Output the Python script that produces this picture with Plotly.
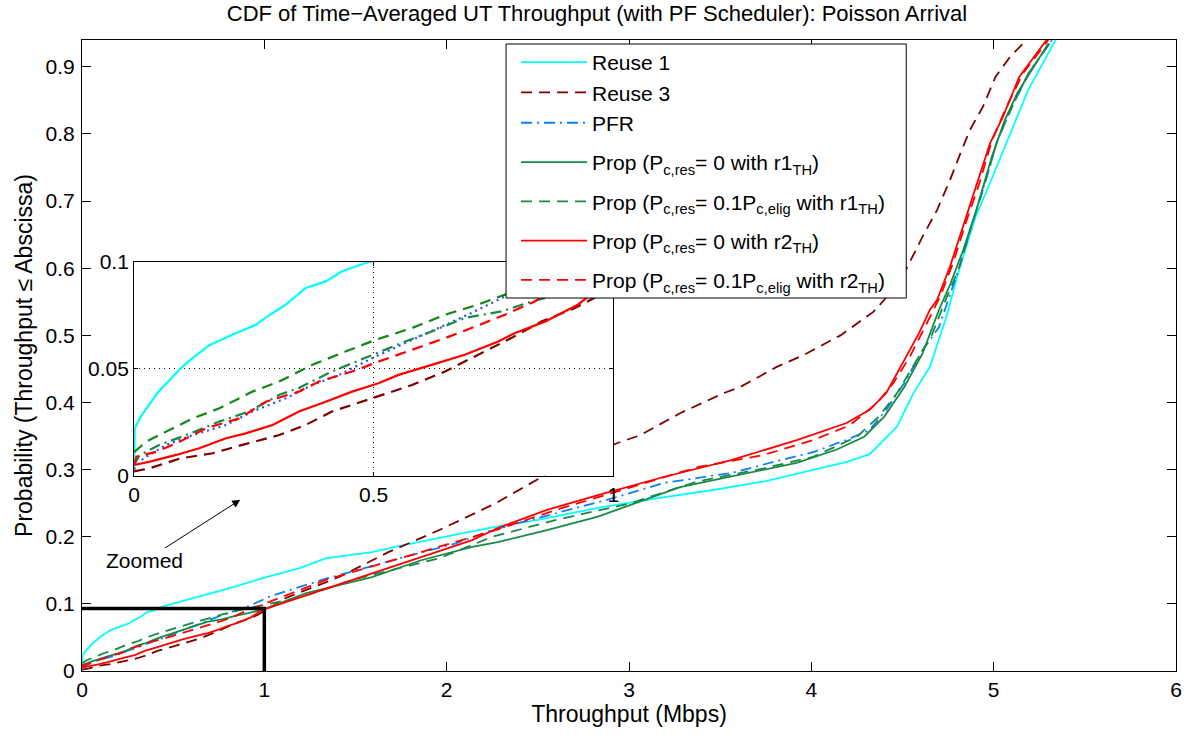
import plotly.graph_objects as go

# ---------------- data ----------------
reuse1_x = [0, 0.0015, 0.012, 0.05, 0.088, 0.109, 0.157, 0.206, 0.254, 0.282, 0.317, 0.358, 0.40, 0.434, 0.483, 0.51,
            0.59, 0.83, 1.01, 1.19, 1.34, 1.59, 1.77, 2.05, 2.23, 2.5, 2.83, 3.15, 3.47, 3.75, 4.01, 4.2, 4.32,
            4.47, 4.56, 4.65, 4.74, 4.81, 4.90, 4.98, 5.09, 5.19, 5.34]
reuse1_y = [0.0035, 0.022, 0.027, 0.039, 0.048, 0.0526, 0.061, 0.066, 0.0705, 0.075, 0.080, 0.0877, 0.0908, 0.0955, 0.0994, 0.101,
            0.107, 0.125, 0.14, 0.153, 0.168, 0.177, 0.188, 0.203, 0.213, 0.225, 0.243, 0.257, 0.27, 0.283, 0.30, 0.312, 0.323,
            0.364, 0.414, 0.453, 0.527, 0.597, 0.676, 0.727, 0.80, 0.866, 0.94]

reuse3_x = [0, 0.033, 0.095, 0.164, 0.226, 0.303, 0.358, 0.413, 0.497, 0.58, 0.649, 0.732, 0.787, 0.85, 0.919, 0.96,
            1.12, 1.41, 1.68, 1.96, 2.27, 2.56, 2.94, 3.06, 3.28, 3.52, 3.61, 3.81, 3.96, 4.16, 4.34, 4.40,
            4.51, 4.61, 4.69, 4.76, 4.81, 4.87, 4.94, 5.01, 5.09, 5.18]
reuse3_y = [0.002, 0.0035, 0.008, 0.0105, 0.0144, 0.019, 0.0237, 0.030, 0.0362, 0.0424, 0.0487, 0.058, 0.0643, 0.072, 0.0783, 0.083,
            0.109, 0.14, 0.177, 0.21, 0.25, 0.295, 0.34, 0.351, 0.384, 0.414, 0.423, 0.453, 0.471, 0.50, 0.535, 0.553,
            0.593, 0.647, 0.687, 0.731, 0.766, 0.806, 0.84, 0.885, 0.915, 0.94]

pfr_x = [0, 0.019, 0.067, 0.123, 0.192, 0.247, 0.317, 0.372, 0.427, 0.504, 0.573, 0.642, 0.704, 0.774, 0.9, 1.04,
         1.32, 1.50, 1.77, 2.05, 2.25, 2.5, 2.88, 3.19, 3.56, 3.83, 4.01, 4.19, 4.32, 4.41, 4.51, 4.61, 4.70,
         4.81, 4.88, 4.95, 5.02, 5.10, 5.19, 5.32]
pfr_y = [0.003, 0.008, 0.0144, 0.019, 0.0237, 0.030, 0.0362, 0.0424, 0.047, 0.0557, 0.0627, 0.0697, 0.076, 0.0838, 0.095, 0.112,
         0.136, 0.15, 0.17, 0.19, 0.21, 0.228, 0.255, 0.28, 0.295, 0.314, 0.326, 0.344, 0.359, 0.389, 0.429, 0.478, 0.512,
         0.60, 0.665, 0.725, 0.79, 0.84, 0.89, 0.94]

prop_r1_0_x = [0, 0.012, 0.053, 0.109, 0.178, 0.24, 0.303, 0.344, 0.413, 0.497, 0.566, 0.621, 0.69, 0.767, 0.83, 0.99,
               1.23, 1.59, 1.86, 2.14, 2.28, 2.55, 2.83, 3.28, 3.65, 3.92, 4.14, 4.29, 4.40, 4.51, 4.61, 4.70,
               4.76, 4.83, 4.90, 4.99, 5.06, 5.13, 5.30]
prop_r1_0_y = [0.005, 0.0097, 0.0144, 0.019, 0.0253, 0.030, 0.0378, 0.041, 0.0487, 0.0565, 0.0627, 0.0674, 0.0737, 0.0768, 0.0814, 0.091,
               0.116, 0.14, 0.165, 0.185, 0.192, 0.21, 0.23, 0.274, 0.295, 0.31, 0.33, 0.349, 0.379, 0.423, 0.473, 0.538,
               0.575, 0.625, 0.682, 0.766, 0.82, 0.861, 0.935]

prop_r1_01_x = [0, 0.026, 0.067, 0.123, 0.178, 0.247, 0.303, 0.372, 0.441, 0.504, 0.58, 0.649, 0.718, 0.774, 0.9,
                1.2, 1.5, 1.96, 2.25, 2.6, 3.01, 3.37, 3.74, 4.01, 4.25, 4.37, 4.47, 4.57, 4.66, 4.74,
                4.81, 4.88, 4.95, 5.02, 5.10, 5.19, 5.32]
prop_r1_01_y = [0.011, 0.016, 0.0206, 0.0268, 0.0315, 0.0393, 0.044, 0.0518, 0.058, 0.0635, 0.069, 0.0752, 0.080, 0.0846, 0.093,
                0.11, 0.137, 0.168, 0.20, 0.225, 0.25, 0.282, 0.302, 0.319, 0.349, 0.379, 0.414, 0.46, 0.50, 0.555,
                0.60, 0.665, 0.725, 0.79, 0.84, 0.89, 0.94]

prop_r2_0_x = [0, 0.033, 0.088, 0.136, 0.192, 0.233, 0.289, 0.344, 0.40, 0.455, 0.51, 0.552, 0.621, 0.69, 0.76, 0.794,
               0.857, 0.926, 0.99, 1.32, 1.59, 1.86, 2.14, 2.28, 2.55, 2.83, 3.19, 3.56, 3.92, 4.19, 4.32, 4.41,
               4.51, 4.59, 4.65, 4.69, 4.76, 4.83, 4.90, 4.98, 5.05, 5.14, 5.29]
prop_r2_0_y = [0.005, 0.0066, 0.0097, 0.0128, 0.0175, 0.0198, 0.0237, 0.030, 0.0346, 0.0393, 0.0432, 0.0471, 0.0518, 0.0565, 0.0627, 0.0666,
               0.072, 0.0799, 0.091, 0.121, 0.146, 0.17, 0.195, 0.213, 0.24, 0.262, 0.289, 0.314, 0.344, 0.369, 0.389, 0.414,
               0.463, 0.503, 0.538, 0.553, 0.602, 0.661, 0.717, 0.786, 0.825, 0.885, 0.94]

prop_r2_01_x = [0, 0.005, 0.047, 0.095, 0.15, 0.22, 0.275, 0.344, 0.386, 0.455, 0.51, 0.58, 0.649, 0.704, 0.774, 0.836,
                0.87, 1.0, 1.34, 1.77, 2.14, 2.27, 2.6, 3.01, 3.38, 3.74, 4.01, 4.21, 4.36, 4.45, 4.54, 4.65,
                4.71, 4.78, 4.85, 4.92, 4.99, 5.07, 5.16, 5.30]
prop_r2_01_y = [0.005, 0.0089, 0.0112, 0.0159, 0.0222, 0.0268, 0.0346, 0.0393, 0.044, 0.0487, 0.0533, 0.0588, 0.0643, 0.069, 0.0752, 0.0814,
                0.086, 0.1, 0.136, 0.17, 0.20, 0.21, 0.24, 0.274, 0.304, 0.322, 0.344, 0.366, 0.399, 0.429, 0.468, 0.527,
                0.56, 0.61, 0.67, 0.725, 0.79, 0.84, 0.89, 0.94]

# zoom-box outline drawn on the main axes
box_x = [0, 1, 1]
box_y = [0.093, 0.093, 0]

x_ticks = [0, 1, 2, 3, 4, 5, 6]
y_ticks = [0, 0.1, 0.2, 0.3, 0.4, 0.5, 0.6, 0.7, 0.8, 0.9]
inset_x_ticks = [0, 0.5, 1]
inset_y_ticks = [0, 0.05, 0.1]

# ---------------- styles ----------------
FONT = "Liberation Sans, Arial, Helvetica, sans-serif"
FS = 21
CYAN = "#00FFFF"
MAROON = "#800000"
PFR_BLUE = "#0A7FFF"
SEA_GREEN = "#178A48"
RED = "#FF0000"
DASH = "11px,7px"
DASHDOT = "11px,5px,2px,5px"
W = 1.8

series = [
    ("Reuse 1", reuse1_x, reuse1_y, CYAN, "solid", "g0"),
    ("Reuse 3", reuse3_x, reuse3_y, MAROON, DASH, "g0"),
    ("PFR", pfr_x, pfr_y, PFR_BLUE, DASHDOT, "g0"),
    ("Prop (P<sub>c,res</sub>= 0 with r1<sub>TH</sub>)", prop_r1_0_x, prop_r1_0_y, SEA_GREEN, "solid", "g1"),
    ("Prop (P<sub>c,res</sub>= 0.1P<sub>c,elig</sub> with r1<sub>TH</sub>)", prop_r1_01_x, prop_r1_01_y, SEA_GREEN, DASH, "g2"),
    ("Prop (P<sub>c,res</sub>= 0 with r2<sub>TH</sub>)", prop_r2_0_x, prop_r2_0_y, RED, "solid", "g3"),
    ("Prop (P<sub>c,res</sub>= 0.1P<sub>c,elig</sub> with r2<sub>TH</sub>)", prop_r2_01_x, prop_r2_01_y, RED, DASH, "g4"),
]

fig = go.Figure()
for name, xs, ys, col, dash, grp in series:
    fig.add_trace(go.Scatter(x=xs, y=ys, mode="lines", name=name, legendgroup=grp,
                             line=dict(color=col, width=W, dash=dash),
                             xaxis="x", yaxis="y"))

fig.add_trace(go.Scatter(x=box_x, y=box_y, mode="lines", showlegend=False,
                         line=dict(color="black", width=3.5), cliponaxis=False,
                         xaxis="x", yaxis="y"))

# inset styles (as drawn in the zoomed view)
inset_styles = [
    (CYAN, "solid"),
    (MAROON, DASH),
    ("#1F4FFF", "2px,4px"),
    (SEA_GREEN, DASHDOT),
    ("#118811", DASH),
    (RED, "solid"),
    (RED, DASH),
]
for (name, xs, ys, _, _, _), (col, dash) in zip(series, inset_styles):
    fig.add_trace(go.Scatter(x=xs, y=ys, mode="lines", showlegend=False,
                             line=dict(color=col, width=2.2, dash=dash),
                             xaxis="x2", yaxis="y2"))

# ---------------- layout ----------------
W_FIG, H_FIG = 1194, 738
L, R, T, B = 82, 13, 40, 67
pw, ph = W_FIG - L - R, H_FIG - T - B

def px_x(p):
    return (p - L) / pw

def px_y(p):
    return (H_FIG - B - p) / ph

axis_common = dict(showline=True, linecolor="black", linewidth=1, mirror="ticks",
                   ticks="inside", tickcolor="black", zeroline=False, showgrid=False,
                   tickfont=dict(family=FONT, size=FS, color="black"))

fig.update_layout(
    width=W_FIG, height=H_FIG,
    margin=dict(l=L, r=R, t=T, b=B),
    paper_bgcolor="white", plot_bgcolor="white",
    font=dict(family=FONT, size=FS, color="black"),
    title=dict(text="CDF of Time\u2212Averaged UT Throughput (with PF Scheduler): Poisson Arrival",
               x=0.5, xref="container", xanchor="center",
               y=1 - 13 / H_FIG, yref="container", yanchor="middle",
               font=dict(family=FONT, size=22, color="black")),
    xaxis=dict(axis_common, domain=[0, 1], range=[0, 6], tickvals=x_ticks, ticklen=9,
               title=dict(text="Throughput (Mbps)", font=dict(family=FONT, size=23), standoff=2)),
    yaxis=dict(axis_common, domain=[0, 1], range=[0, 0.94], tickvals=y_ticks, ticklen=9,
               ticklabelstandoff=2,
               title=dict(text="Probability (Throughput \u2264 Abscissa)", font=dict(family=FONT, size=23), standoff=6)),
    xaxis2=dict(axis_common, domain=[px_x(134.3), px_x(615.7)], range=[0, 1], tickvals=inset_x_ticks,
                anchor="y2", ticklen=4, showgrid=True, gridcolor="black", griddash="1px,4px", gridwidth=1),
    yaxis2=dict(axis_common, domain=[px_y(475.7), px_y(261.7)], range=[0, 0.1], tickvals=inset_y_ticks,
                anchor="x2", ticklen=4, showgrid=True, gridcolor="black", griddash="1px,4px", gridwidth=1),
    legend=dict(x=px_x(518), y=px_y(42), xanchor="left", yanchor="top",
                bgcolor="rgba(0,0,0,0)", borderwidth=0,
                font=dict(family=FONT, size=FS, color="black"),
                tracegroupgap=9, itemwidth=66, groupclick="toggleitem"),
    showlegend=True,
)

# legend frame (white box drawn above the curves and the inset)
fig.add_shape(type="rect", xref="paper", yref="paper",
              x0=px_x(508), x1=px_x(910), y0=px_y(298), y1=px_y(44),
              line=dict(color="black", width=1), fillcolor="white", layer="above")

fig.add_annotation(x=0.868, y=0.255, ax=0.344, ay=0.164, xref="x", yref="y", axref="x", ayref="y",
                   text="Zoomed", showarrow=True, arrowhead=2, arrowsize=1.6, arrowwidth=1,
                   arrowcolor="black", font=dict(family=FONT, size=FS, color="black"))

fig.write_html("out.html")
